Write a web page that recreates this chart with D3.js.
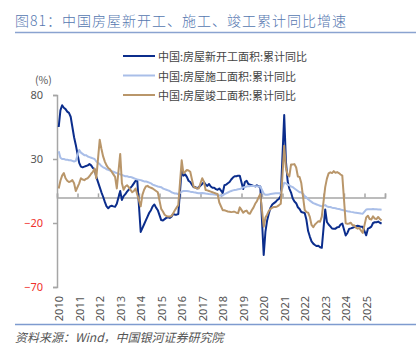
<!DOCTYPE html>
<html>
<head>
<meta charset="utf-8">
<script src="https://cdn.jsdelivr.net/npm/d3@7"></script>
<style>
    body { margin: 0; background: #fff; }
    svg { display: block; font-family: "Noto Sans CJK SC", "Noto Sans", sans-serif; }
</style>
</head>
<body>
<div id="chart"></div>
<script>

// monthly cumulative YoY (%), Jan-Feb combined, one row of Feb..Dec per year
const startYear = 2010;

const newStartYoY = [
    55, 68, 72, 70, 69, 67, 66, 63, 55, 47, 41,
    27, 24, 23.5, 24, 24.5, 25, 26, 25, 23, 22, 16,
    8, 4, 0.5, -3.5, -7, -8.5, -7, -6.5, -7, -7.3, -5,
    5, -2, 1, 2.5, 4.5, 6, 7.5, 9, 11, 13, 13,
    -27, -24, -21, -18, -15, -12, -10, -7, -5.5, -8, -10,
    -17.7, -18, -17, -16, -15.5, -16, -15, -13, -13.5, -13.5, -13,
    22, 17, 18, 16, 13, 12, 10, 8, 8, 7, 8,
    10.5, 12, 10, 9, 10.5, 8.5, 7.5, 7.5, 6.5, 6, 7,
    3.5, 9.5, 10, 11, 12, 14, 15.5, 16.5, 16.5, 17, 17,
    6.5, 12, 13, 10.5, 10, 9.5, 9, 8.6, 9.5, 8.6, 8.5,
    -45, -27, -18, -12.5, -8, -5.5, -4.5, -3.5, -2, -1, 1,
    64.3, 28.2, 12.8, 6.9, 3.8, -0.9, -3.2, -4.5, -7.7, -9.1, -11.4,
    -12.2, -17.5, -26.3, -30.6, -34.4, -36.1, -37.2, -38, -37.8, -38.9, -39.4,
    -9.4, -19.2, -21.2, -22.6, -24.3, -24.5, -24.4, -23.4, -23.2, -21.2, -20.4,
    -29.7, -27.8, -24.6, -24.2, -23.7, -23.2, -22.5, -22.2, -22.6, -23, -23,
    -29.6, -24.4, -23.8, -22.8, -20, -19.4, -19.5, -18.9, -19.8, -20.5
];

const constructionYoY = [
    36, 31, 30, 30, 29.5, 29.5, 29, 29, 28.5, 28, 28.5,
    37, 35, 34, 33, 33, 32, 31.5, 31, 30.5, 30, 28,
    26, 24.5, 23.5, 23, 22, 21.5, 21, 20.5, 20, 19.5, 19,
    18, 17.5, 17, 16.5, 16.5, 16, 16, 15.5, 15, 14.5, 14,
    13.5, 13, 12.5, 12.5, 12, 11.5, 11, 10, 9.5, 9, 8.5,
    8, 7, 6.5, 6, 5.5, 5, 4, 3.5, 3, 3, 2.5,
    4.5, 5, 5, 5, 4.8, 4.5, 4.3, 4, 3.8, 3.5, 3.2,
    3.5, 3.3, 3, 2.8, 2.6, 2.5, 2.4, 2.2, 2, 1.8, 1.5,
    1.5, 2.5, 3.2, 3.8, 4.5, 5, 5.5, 5.8, 6, 6.3, 6.5,
    7.8, 8.2, 8.5, 8.8, 8.8, 9, 9, 8.8, 8.8, 8.6, 8.5,
    3, 2, 2, 2.3, 2.6, 2.8, 3, 3.2, 3.3, 3.2, 3.5,
    11.5, 11, 10, 9.5, 8.5, 8, 7, 6, 5, 4, 4,
    1, 0, -1.5, -2.5, -3.5, -4.5, -5, -5.5, -6, -6.5, -7,
    -6, -7, -7.5, -7.5, -8, -8.2, -8.5, -8.8, -9, -9.5, -9.8,
    -10.5, -10.8, -11, -11.3, -11.5, -11.8, -12, -12.2, -12.4, -12.6, -12.7,
    -9.5, -9.3, -9.2, -9.2, -9.1, -9.2, -9.3, -9.4, -9.4, -9.6
];

const completionYoY = [
    7, 13, 17, 19, 15, 13, 12, 12.5, 13.5, 11, 5,
    11, 15, 14, 13.5, 14.5, 15, 16.5, 18.5, 20, 22.5, 15,
    45, 38, 32, 28, 25, 23, 22, 20, 18, 16, 7,
    34, 11, 6, 8.5, 9.5, 8, 6, 4, 5, 7, 2,
    -7, 2, 6, 8.5, 9, 8, 7.5, 7, 6, 5, 4,
    -9, -11, -13.5, -14.5, -15, -15, -14.5, -12.5, -10, -8, -6,
    29, 18.8, 20, 21.4, 21, 20, 14, 8.4, 7.5, 7.1, 7,
    15, 12.3, 5.8, 5.5, 5, 4.5, 4, 3.5, 3, 2.7, -4,
    -10, -10, -10.5, -11, -11.2, -11.5, -11.3, -11.2, -12, -12.3, -7.8,
    -11.9, -10.8, -10.3, -12.4, -12.7, -10, -8, -5, -3, 0, 2.6,
    -22.9, -15.8, -13.5, -10.5, -9, -8, -7.5, -7.5, -7, -6, -4.9,
    40.4, 22.9, 17.9, 16.4, 25.7, 25.7, 26, 23.4, 16.3, 16, 11.2,
    -9.8, -11.5, -11.9, -15.3, -21.5, -23.3, -21.1, -19.9, -18.7, -19, -15,
    8, 14.7, 18.8, 19.6, 19, 20.5, 19.2, 19.8, 19, 17.9, 17,
    -20.2, -20.7, -20.4, -19.8, -21.8, -21.8, -23.6, -24.4, -23.9, -26, -27.7,
    -15.6, -14.3, -16.9, -17.3, -14.8, -16.5, -17, -15.3, -16.9, -18
];

const seriesNames = ["中国:房屋新开工面积:累计同比", "中国:房屋施工面积:累计同比", "中国:房屋竣工面积:累计同比"];
const yearLabels = ["2010", "2011", "2012", "2013", "2014", "2015", "2016", "2017",
    "2018", "2019", "2020", "2021", "2022", "2023", "2024", "2025"];
const yTicks = [80, 30, -20, -70];

const titleText = "图81：中国房屋新开工、施工、竣工累计同比增速";
const sourceText = "资料来源：Wind，中国银河证券研究院";


class LineChart {

    constructor(parentElement) {
        this.parentElement = parentElement;
        this.initVis();
    }

    initVis() {
        let vis = this;
        vis.width = 416;
        vis.height = 351;
        vis.colors = ["#0b2d8c", "#a9bee8", "#b9966a"];

        vis.svg = d3.select("#" + vis.parentElement).append("svg")
            .attr("width", vis.width)
            .attr("height", vis.height);

        // title + rules
        vis.svg.append("text")
            .attr("x", 15).attr("y", 26)
            .attr("font-size", "14px")
            .attr("font-weight", 300)
            .attr("letter-spacing", "1px")
            .attr("fill", "#5577b0")
            .text(titleText);
        vis.svg.append("line")
            .attr("x1", 15).attr("x2", 416).attr("y1", 32.5).attr("y2", 32.5)
            .attr("stroke", "#8aa3d0").attr("stroke-width", 1.5);
        vis.svg.append("line")
            .attr("x1", 15).attr("x2", 416).attr("y1", 324.5).attr("y2", 324.5)
            .attr("stroke", "#7e9bcf").attr("stroke-width", 1.5);
        vis.svg.append("text")
            .attr("x", 15).attr("y", 342)
            .attr("font-size", "12px")
            .attr("font-style", "italic")
            .attr("fill", "#555")
            .text(sourceText);

        vis.x = d3.scaleLinear().domain([2010, 2026]).range([57, 385]);
        vis.y = d3.scaleLinear().domain([-70, 80]).range([287, 95]);

        vis.svg.append("text")
            .attr("x", 35).attr("y", 84)
            .attr("font-size", "10.5px")
            .attr("fill", "#555")
            .text("(%)");

        vis.wrangleData();
    }

    wrangleData() {
        let vis = this;
        // Feb..Dec for each year, in order
        let toRows = arr => arr.map((v, i) => {
            let yr = startYear + Math.floor(i / 11);
            let m = 2 + i % 11;
            return {t: yr + (m - 1) / 12, v: v};
        });
        vis.series = [toRows(newStartYoY), toRows(constructionYoY), toRows(completionYoY)];
        vis.updateVis();
    }

    updateVis() {
        let vis = this;

        // y axis
        let yAxis = d3.axisLeft(vis.y).tickValues(yTicks).tickSize(4).tickPadding(10).tickFormat(d3.format("d"));
        let gy = vis.svg.append("g")
            .attr("transform", "translate(57,0)")
            .call(yAxis);
        gy.select(".domain").attr("stroke", "#a6a6a6").attr("stroke-width", 1.5);
        gy.selectAll(".tick line").attr("stroke", "#a6a6a6").attr("stroke-width", 1.5);
        gy.selectAll(".tick text")
            .attr("font-family", "\"Noto Sans\", sans-serif")
            .attr("font-size", "11px")
            .attr("fill", d => d < 0 ? "#f0302c" : "#555");

        // x axis on the zero line, ticks pointing up
        let xAxis = d3.axisTop(vis.x)
            .tickValues(d3.range(2010, 2027))
            .tickSize(4).tickFormat("");
        let gx = vis.svg.append("g")
            .attr("transform", `translate(0,${vis.y(0)})`)
            .call(xAxis);
        gx.select(".domain").attr("stroke", "#a6a6a6").attr("stroke-width", 1.5);
        gx.selectAll(".tick line").attr("stroke", "#a6a6a6").attr("stroke-width", 1.5);

        // year labels, rotated, at bottom
        vis.svg.append("g").selectAll("text")
            .data(yearLabels)
            .join("text")
            .attr("transform", d => `translate(${vis.x(+d) + 1.5}, 296) rotate(-90)`)
            .attr("text-anchor", "end")
            .attr("dominant-baseline", "central")
            .attr("font-family", "\"Noto Sans\", sans-serif")
            .attr("font-size", "11px")
            .attr("fill", "#555")
            .text(d => d);

        // lines
        let line = d3.line()
            .x(d => vis.x(d.t))
            .y(d => vis.y(d.v));
        [0, 1, 2].forEach(k => {
            vis.svg.append("path")
                .datum(vis.series[k])
                .attr("fill", "none")
                .attr("stroke", vis.colors[k])
                .attr("stroke-width", 2)
                .attr("stroke-linejoin", "round")
                .attr("d", line);
        });

        // legend
        let legendY = [56, 75.5, 95];
        let lg = vis.svg.append("g").selectAll("g")
            .data(seriesNames)
            .join("g")
            .attr("transform", (d, i) => `translate(123,${legendY[i]})`);
        lg.append("line")
            .attr("x1", 0).attr("x2", 32)
            .attr("stroke", (d, i) => vis.colors[i])
            .attr("stroke-width", 2);
        lg.append("text")
            .attr("x", 35)
            .attr("dominant-baseline", "central")
            .attr("font-size", "11px")
            .attr("fill", "#444")
            .text(d => d);
    }
}

new LineChart("chart");
</script>
</body>
</html>
